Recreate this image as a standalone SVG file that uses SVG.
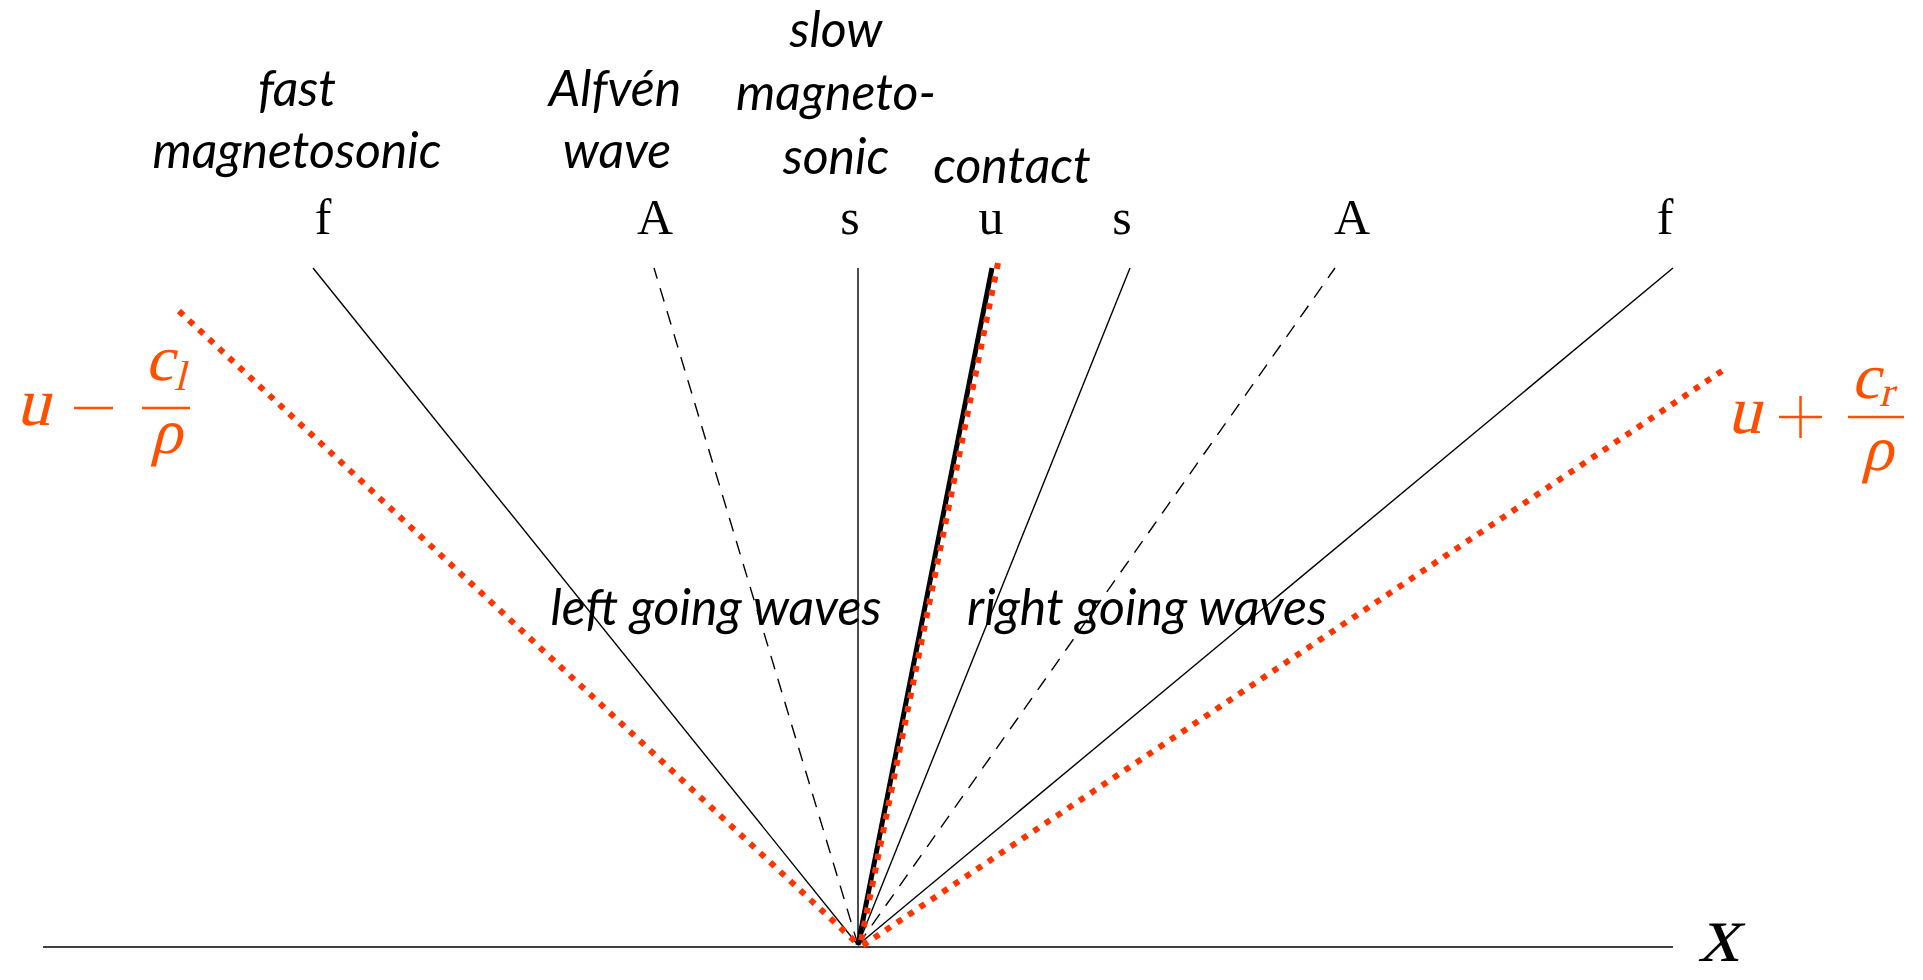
<svg xmlns="http://www.w3.org/2000/svg" width="1923" height="980" viewBox="0 0 1923 980">
<style>
.thin{stroke:#000;stroke-width:1.4;fill:none}
.dash{stroke:#000;stroke-width:1.4;fill:none;stroke-dasharray:14 10}
.red{stroke:#ff3300;stroke-width:6;fill:none;stroke-dasharray:6 7.7}
.lbl{font-family:Lato,"Open Sans",sans-serif;font-style:italic;font-size:50px;fill:#000;text-anchor:middle}
.cm{font-family:"Liberation Serif","DejaVu Serif",serif;font-size:50px;fill:#000;text-anchor:middle}
.math{font-family:"Liberation Serif","DejaVu Serif",serif;fill:#ff5000}
.mbar{stroke:#ff5000;stroke-width:2.5}
</style>
<rect width="1923" height="980" fill="#fff"/>
<g id="connectors">
<line id="axis" class="thin" x1="43" y1="947" x2="1673" y2="947"/>
<line class="thin" x1="858" y1="945" x2="313" y2="268"/>
<line class="dash" x1="858" y1="945" x2="654" y2="268"/>
<line class="thin" x1="858" y1="945" x2="858" y2="268"/>
<line stroke="#000" stroke-width="5" x1="858" y1="945" x2="992" y2="268"/>
<line class="thin" x1="858" y1="945" x2="1130" y2="268"/>
<line class="dash" x1="858" y1="945" x2="1335" y2="268"/>
<line class="thin" x1="858" y1="945" x2="1673" y2="268"/>
<line class="red" x1="179" y1="311" x2="860" y2="946"/>
<line class="red" x1="998" y1="263" x2="860" y2="946"/>
<line class="red" x1="1722" y1="371" x2="862" y2="946"/>
</g>
<g id="wave-letters">
<text class="cm" x="323" y="234">f</text>
<text class="cm" x="655" y="234">A</text>
<text class="cm" x="850" y="234">s</text>
<text class="cm" x="991" y="234">u</text>
<text class="cm" x="1122" y="234">s</text>
<text class="cm" x="1352" y="234">A</text>
<text class="cm" x="1665" y="234">f</text>
</g>
<g id="fast-label">
<text class="lbl" x="297" y="106">fast</text>
<text class="lbl" x="297" y="168">magnetosonic</text>
</g>
<g id="alfven-label">
<text class="lbl" x="615" y="106">Alfvén</text>
<text class="lbl" x="617" y="168">wave</text>
</g>
<g id="slow-label">
<text class="lbl" x="836" y="47">slow</text>
<text class="lbl" x="836" y="110">magneto-</text>
<text class="lbl" x="836" y="174">sonic</text>
</g>
<g id="contact-label">
<text class="lbl" x="1012" y="183">contact</text>
</g>
<g id="left-going">
<text class="lbl" x="716" y="625">left going waves</text>
</g>
<g id="right-going">
<text class="lbl" x="1147" y="625">right going waves</text>
</g>
<g id="left-speed">
<text class="math" transform="translate(16,425) skewX(-14)" font-size="68">u</text>
<line class="mbar" x1="74" y1="408" x2="113" y2="408"/>
<line class="mbar" x1="142" y1="408" x2="190" y2="408"/>
<text class="math" transform="translate(145,380) skewX(-14)" font-size="64">c</text>
<text class="math" transform="translate(174,390) skewX(-14)" font-size="42">l</text>
<text class="math" transform="translate(150,453) skewX(-14)" font-size="64">ρ</text>
</g>
<g id="right-speed">
<text class="math" transform="translate(1727,433) skewX(-14)" font-size="68">u</text>
<line class="mbar" x1="1779" y1="417" x2="1822" y2="417"/>
<line class="mbar" x1="1800.5" y1="396" x2="1800.5" y2="438"/>
<line class="mbar" x1="1848" y1="417" x2="1904" y2="417"/>
<text class="math" transform="translate(1851,398) skewX(-14)" font-size="64">c</text>
<text class="math" transform="translate(1879,406) skewX(-14)" font-size="42">r</text>
<text class="math" transform="translate(1861,470) skewX(-14)" font-size="64">ρ</text>
</g>
<g id="x-label">
<text class="math" transform="translate(1698,961) skewX(-14)" font-size="82" style="fill:#000">x</text>
</g>
</svg>
